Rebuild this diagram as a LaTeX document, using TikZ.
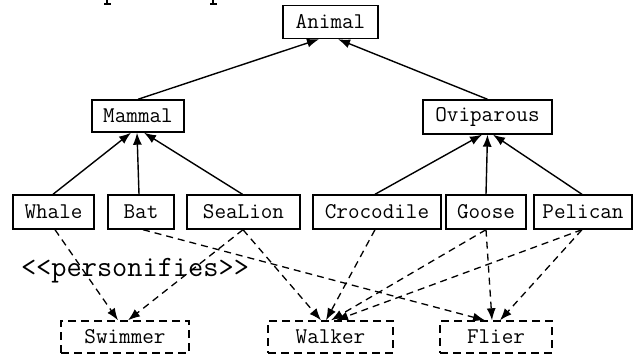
\documentclass[tikz,border=0pt]{standalone}
\usetikzlibrary{arrows.meta}
\begin{document}
\begin{tikzpicture}[x=1pt,y=-1pt,
  cls/.style={draw,line width=1.4pt,font=\ttfamily\fontsize{22.5}{24}\selectfont,minimum height=33pt,inner sep=0pt},
  ifc/.style={cls,dash pattern=on 8pt off 5pt},
  inh/.style={line width=1.4pt,-{Latex[length=12pt,width=9pt]}},
  real/.style={line width=1.3pt,dash pattern=on 7pt off 5pt,-{Latex[length=12pt,width=9pt]}}]
\useasboundingbox (0,0) rectangle (639,358);
% fragments of cut-off text at the top edge
\draw[line width=1.1pt] (107,0) -- (107,4) (104,4) -- (111,4);
\draw[line width=1.1pt] (213,0) -- (213,4) (210,4) -- (217,4);
% classes
\node[cls,minimum width=95pt] (animal) at (330.5,22) {Animal};
\node[cls,minimum width=92pt,minimum height=32pt] (mammal) at (138,116) {Mammal};
\node[cls,minimum width=129pt,minimum height=34pt] (ovip) at (487.5,117) {Oviparous};
\node[cls,minimum width=81pt,minimum height=34pt] (whale) at (53.5,212) {Whale};
\node[cls,minimum width=66pt,minimum height=34pt] (bat) at (141,212) {Bat};
\node[cls,minimum width=113pt,minimum height=34pt] (sealion) at (243.5,212) {SeaLion};
\node[cls,minimum width=128pt,minimum height=34pt] (croc) at (377,212) {Crocodile};
\node[cls,minimum width=80pt,minimum height=34pt] (goose) at (486,212) {Goose};
\node[cls,minimum width=98pt,minimum height=34pt] (pelican) at (583,212) {Pelican};
% interfaces
\node[ifc,minimum width=128pt,minimum height=32pt] (swimmer) at (125,337) {Swimmer};
\node[ifc,minimum width=125pt,minimum height=32pt] (walker) at (330.5,337) {Walker};
\node[ifc,minimum width=112pt,minimum height=32pt] (flier) at (496,337) {Flier};
% label
\node[font=\ttfamily\fontsize{29.5}{30}\selectfont,inner sep=0pt] (lbl) at (135,271) {<<personifies>>};
% inheritance
\draw[inh] (mammal.north) -- ([xshift=-11.5pt]animal.south);
\draw[inh] (ovip.north) -- ([xshift=7.5pt]animal.south);
\draw[inh] ([xshift=-0.5pt]whale.north) -- ([xshift=-7pt]mammal.south);
\draw[inh] ([xshift=-2pt]bat.north) -- ([xshift=-1pt]mammal.south);
\draw[inh] ([xshift=-1pt]sealion.north) -- ([xshift=6pt]mammal.south);
\draw[inh] ([xshift=-2pt]croc.north) -- ([xshift=-5.5pt]ovip.south);
\draw[inh] (goose.north) -- (ovip.south);
\draw[inh] ([xshift=-1pt]pelican.north) -- ([xshift=5.5pt]ovip.south);
% realisation
\draw[real] ([xshift=1.5pt]whale.south) -- ([xshift=-7pt]swimmer.north);
\draw[real] ([xshift=-0.5pt]sealion.south) -- ([xshift=3pt]swimmer.north);
\draw[real] ([xshift=-0.5pt]sealion.south) -- ([xshift=-9.5pt]walker.north);
\draw[real] ([xshift=2pt]bat.south) -- ([xshift=-11pt]flier.north);
\draw[real] ([xshift=-2pt]croc.south) -- ([xshift=-4.5pt]walker.north);
\draw[real] (goose.south) -- ([xshift=0.5pt]walker.north);
\draw[real] (goose.south) -- ([xshift=-4pt]flier.north);
\draw[real] ([xshift=-1pt]pelican.south) -- ([xshift=5.5pt]walker.north);
\draw[real] ([xshift=-1pt]pelican.south) -- ([xshift=4pt]flier.north);
\end{tikzpicture}
\end{document}
